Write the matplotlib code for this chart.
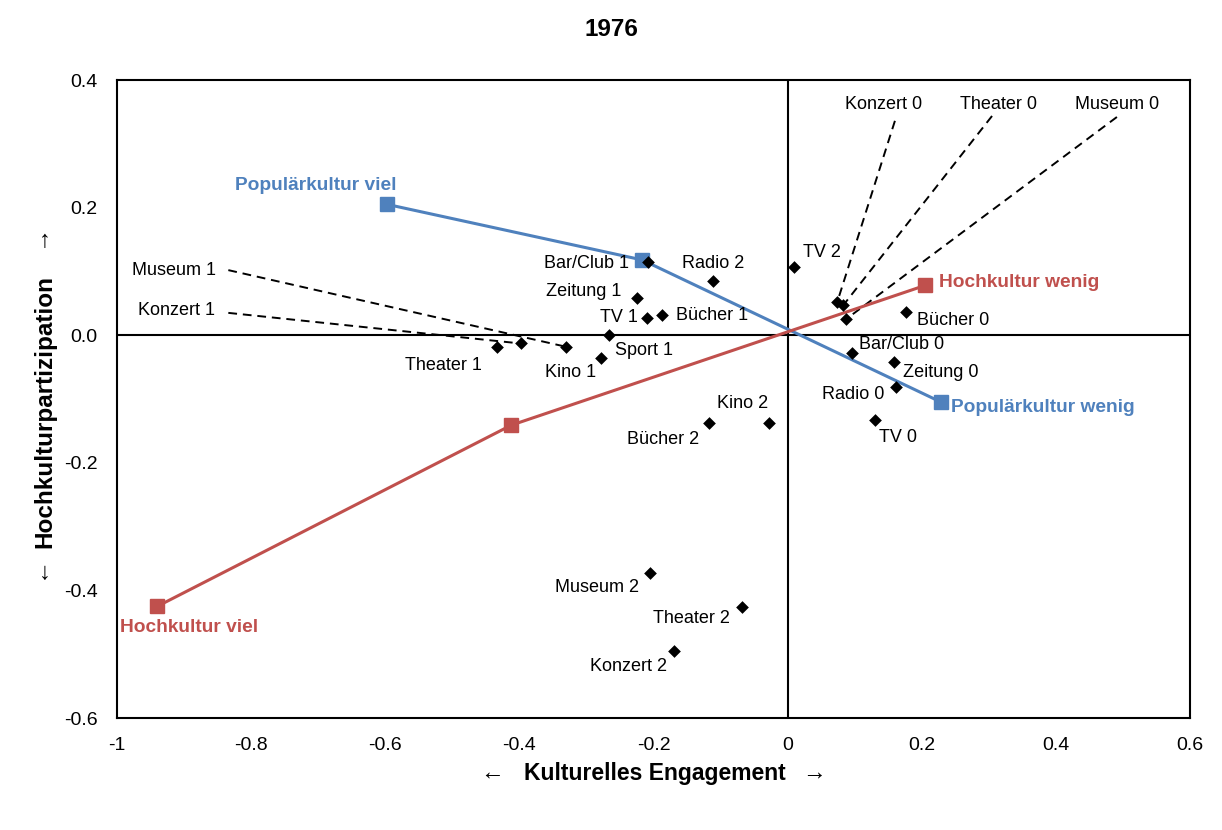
import matplotlib
matplotlib.use("Agg")
import matplotlib.pyplot as plt

plt.rcParams['font.family'] = ['Liberation Sans', 'DejaVu Sans']

# ---- data ----
point_labels = ["Bar/Club 1", "Radio 2", "Zeitung 1", "TV 1", "Bücher 1", "Sport 1",
                "Kino 1", "Theater 1", "Konzert 1", "Museum 1",
                "TV 2", "Konzert 0", "Theater 0", "Museum 0", "Bücher 0",
                "Bar/Club 0", "Zeitung 0", "Radio 0", "TV 0",
                "Kino 2", "Bücher 2", "Museum 2", "Theater 2", "Konzert 2"]
point_x = [-0.208, -0.112, -0.225, -0.209, -0.187, -0.266,
           -0.279, -0.434, -0.398, -0.331,
           0.009, 0.074, 0.083, 0.087, 0.177,
           0.096, 0.158, 0.162, 0.130,
           -0.028, -0.117, -0.205, -0.068, -0.169]
point_y = [0.115, 0.085, 0.059, 0.027, 0.032, 0.000,
           -0.035, -0.018, -0.013, -0.018,
           0.107, 0.052, 0.047, 0.025, 0.037,
           -0.028, -0.042, -0.081, -0.133,
           -0.137, -0.137, -0.372, -0.426, -0.495]

pop_labels = ["Populärkultur viel", "", "Populärkultur wenig"]
pop_x = [-0.597, -0.217, 0.229]
pop_y = [0.205, 0.118, -0.105]

hoch_labels = ["Hochkultur viel", "", "Hochkultur wenig"]
hoch_x = [-0.940, -0.412, 0.205]
hoch_y = [-0.425, -0.141, 0.078]

x_ticks = [-1, -0.8, -0.6, -0.4, -0.2, 0, 0.2, 0.4, 0.6]
x_ticklabels = ["-1", "-0.8", "-0.6", "-0.4", "-0.2", "0", "0.2", "0.4", "0.6"]
y_ticks = [0.4, 0.2, 0.0, -0.2, -0.4, -0.6]
y_ticklabels = ["0.4", "0.2", "0.0", "-0.2", "-0.4", "-0.6"]

title = "1976"
x_label = "Kulturelles Engagement"
y_label = "Hochkulturpartizipation"

# ---- layout (label offsets in pixels: dx right, dy down) ----
label_offsets = {
    "Bar/Club 1": (-62, 2), "Radio 2": (1, -17), "Zeitung 1": (-53, -6),
    "TV 1": (-29, 0), "Bücher 1": (50, 1), "Sport 1": (35, 15),
    "Kino 1": (-30, 15), "Theater 1": (-53, 19),
    "TV 2": (28, -14), "Bücher 0": (47, 9), "Bar/Club 0": (50, -9),
    "Zeitung 0": (47, 11), "Radio 0": (-43, 8), "TV 0": (23, 17),
    "Kino 2": (-26, -19), "Bücher 2": (-46, 17), "Museum 2": (-53, 15),
    "Theater 2": (-51, 12), "Konzert 2": (-46, 15),
}
# leader-line labels: (text x, text y, ha, line start x, line start y) in data coords
leader_labels = {
    "Konzert 1": (-0.854, 0.038, "right", -0.834, 0.035),
    "Museum 1": (-0.852, 0.102, "right", -0.834, 0.102),
    "Konzert 0": (0.1437, 0.362, "center", 0.160, 0.336),
    "Theater 0": (0.3138, 0.362, "center", 0.3048, 0.3436),
    "Museum 0": (0.491, 0.362, "center", 0.491, 0.342),
}
group_offsets = {
    "Populärkultur viel": (-72, -19), "Populärkultur wenig": (102, 5),
    "Hochkultur viel": (32, 21), "Hochkultur wenig": (94, -3),
}

BLUE = "#4F81BD"
RED = "#C0504D"
FS = 13

fig = plt.figure(figsize=(12.22, 8.30), dpi=100)
ax = fig.add_axes([117/1222, 1-718/830, (1190-117)/1222, (718-80)/830])

ax.set_xlim(-1, 0.6)
ax.set_ylim(-0.6, 0.4)
ax.axhline(0, color="black", lw=1.5, zorder=1)
ax.axvline(0, color="black", lw=1.5, zorder=1)

# leader lines
for name, (tx, ty, ha, lx, ly) in leader_labels.items():
    i = point_labels.index(name)
    ax.plot([lx, point_x[i]], [ly, point_y[i]], color="black", lw=1.4,
            dashes=(4.5, 3), zorder=2)
    ax.text(tx, ty, name, ha=ha, va="center", fontsize=FS, color="black")

ax.plot(pop_x, pop_y, color=BLUE, lw=2.2, marker="s", ms=10, mec=BLUE, mfc=BLUE, zorder=3)
ax.plot(hoch_x, hoch_y, color=RED, lw=2.2, marker="s", ms=10, mec=RED, mfc=RED, zorder=3)

ax.scatter(point_x, point_y, marker="D", s=42, color="black", zorder=4, linewidths=0)

for name, x, y in zip(point_labels, point_x, point_y):
    if name in label_offsets:
        dx, dy = label_offsets[name]
        ax.annotate(name, (x, y), xytext=(dx, -dy), textcoords="offset pixels",
                    ha="center", va="center", fontsize=FS, color="black")

for labels, xs, ys, col in [(pop_labels, pop_x, pop_y, BLUE), (hoch_labels, hoch_x, hoch_y, RED)]:
    for name, x, y in zip(labels, xs, ys):
        if name:
            dx, dy = group_offsets[name]
            ax.annotate(name, (x, y), xytext=(dx, -dy), textcoords="offset pixels",
                        ha="center", va="center", fontsize=13.8, color=col,
                        fontweight="bold")

ax.set_xticks(x_ticks)
ax.set_xticklabels(x_ticklabels)
ax.set_yticks(y_ticks)
ax.set_yticklabels(y_ticklabels)
ax.tick_params(length=0, labelsize=14, pad=14)
ax.tick_params(axis="y", pad=14)
for s in ax.spines.values():
    s.set_linewidth(1.5)

W, H = 1222, 830
fig.text(611/W, 1-30/H, title, ha="center", va="center", fontsize=17.5, fontweight="bold")

# x axis label with thin arrows
fig.text(655/W, 1-773/H, x_label, ha="center", va="center", fontsize=16.5, fontweight="bold")
fig.text(492/W, 1-773/H, "\u2190", ha="center", va="center", fontsize=17,
         family=["Liberation Sans", "DejaVu Sans"])
fig.text(814/W, 1-773/H, "\u2192", ha="center", va="center", fontsize=17,
         family=["Liberation Sans", "DejaVu Sans"])

# y axis label with thin arrows
fig.text(45/W, 1-411/H, y_label, ha="center", va="center", fontsize=17.5,
         fontweight="bold", rotation=90)
fig.text(45/W, 1-573/H, "\u2193", ha="center", va="center", fontsize=17,
         family=["Liberation Sans", "DejaVu Sans"])
fig.text(45/W, 1-241/H, "\u2191", ha="center", va="center", fontsize=17,
         family=["Liberation Sans", "DejaVu Sans"])

fig.savefig("out.png", dpi=100)
